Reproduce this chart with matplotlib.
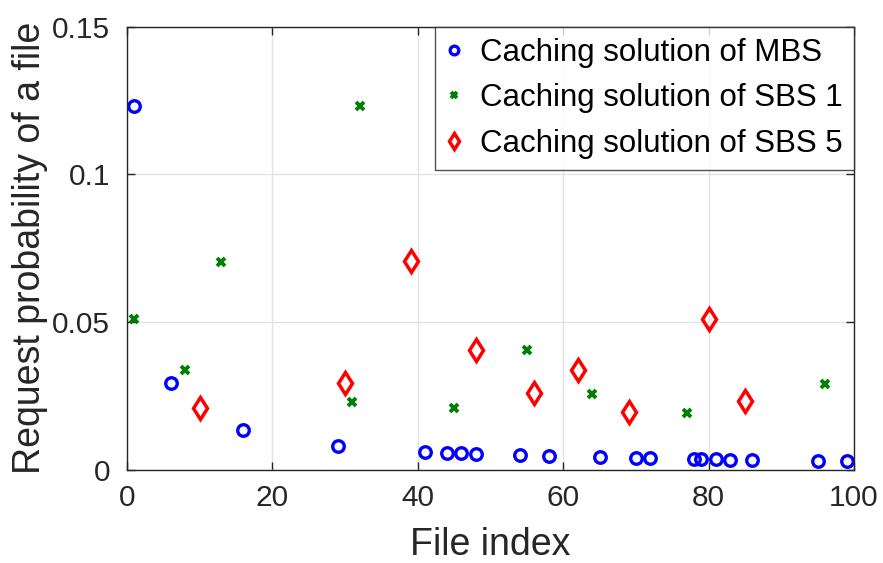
import matplotlib
matplotlib.use('Agg')
import matplotlib.pyplot as plt

# cached files and their request probabilities
mbs_idx = [1, 6, 16, 29, 41, 44, 46, 48, 54, 58, 65, 70, 72, 78, 79, 81, 83, 86, 95, 99]
mbs_prob = [0.1232, 0.0293, 0.0135, 0.0082, 0.0062, 0.0059, 0.0056, 0.0054, 0.0050, 0.0046,
            0.0043, 0.0040, 0.0040, 0.0036, 0.0036, 0.0036, 0.0035, 0.0034, 0.0030, 0.0030]

sbs1_idx = [1, 8, 13, 31, 32, 45, 55, 64, 77, 96]
sbs1_prob = [0.0510, 0.0339, 0.0705, 0.0231, 0.1232, 0.0211, 0.0405, 0.0258, 0.0194, 0.0292]

sbs5_idx = [10, 30, 39, 48, 56, 62, 69, 80, 85]
sbs5_prob = [0.0211, 0.0293, 0.0706, 0.0405, 0.0260, 0.0339, 0.0195, 0.0510, 0.0232]

plt.rcParams['font.family'] = ['Liberation Sans', 'DejaVu Sans']
dark = '#262626'

fig = plt.figure(figsize=(8.83, 5.63), dpi=100)
ax = fig.add_axes([0.1438, 0.1652, 0.8234, 0.7874])

ax.plot(mbs_idx, mbs_prob, 'o', color='blue', mfc='none', ms=8.3, mew=2.4,
        label='Caching solution of MBS')
ax.plot(sbs1_idx, sbs1_prob, 'x', color='green', ms=6, mew=2.8,
        label='Caching solution of SBS 1')
ax.plot(sbs5_idx, sbs5_prob, 'd', color='red', mfc='none', ms=11.5, mew=2.5,
        label='Caching solution of SBS 5')

ax.set_xlim(0, 100)
ax.set_ylim(0, 0.15)
ax.set_xticks([0, 20, 40, 60, 80, 100])
ax.set_yticks([0, 0.05, 0.1, 0.15])
ax.set_yticklabels(['0', '0.05', '0.1', '0.15'])
ax.grid(True, color='#e3e3e3', linewidth=1.0)
ax.set_axisbelow(True)

for s in ax.spines.values():
    s.set_color(dark)
    s.set_linewidth(1.0)
ax.tick_params(direction='in', length=6, width=1.0, colors=dark, labelsize=21.5,
               top=True, right=True, pad=10)
ax.tick_params(axis='y', pad=12)

ax.set_xlabel('File index', fontsize=27, color=dark, labelpad=11)
ax.set_ylabel('Request probability of a file', fontsize=27, color=dark, labelpad=3)

leg = ax.legend(loc='upper right', fontsize=22.5, frameon=True, fancybox=False,
                borderaxespad=0, handlelength=0.5, handletextpad=0.6,
                labelspacing=0.5, borderpad=0.35, markerscale=0.75)
leg.get_frame().set_edgecolor(dark)
leg.get_frame().set_linewidth(1.0)

fig.savefig('out.png', dpi=100)
